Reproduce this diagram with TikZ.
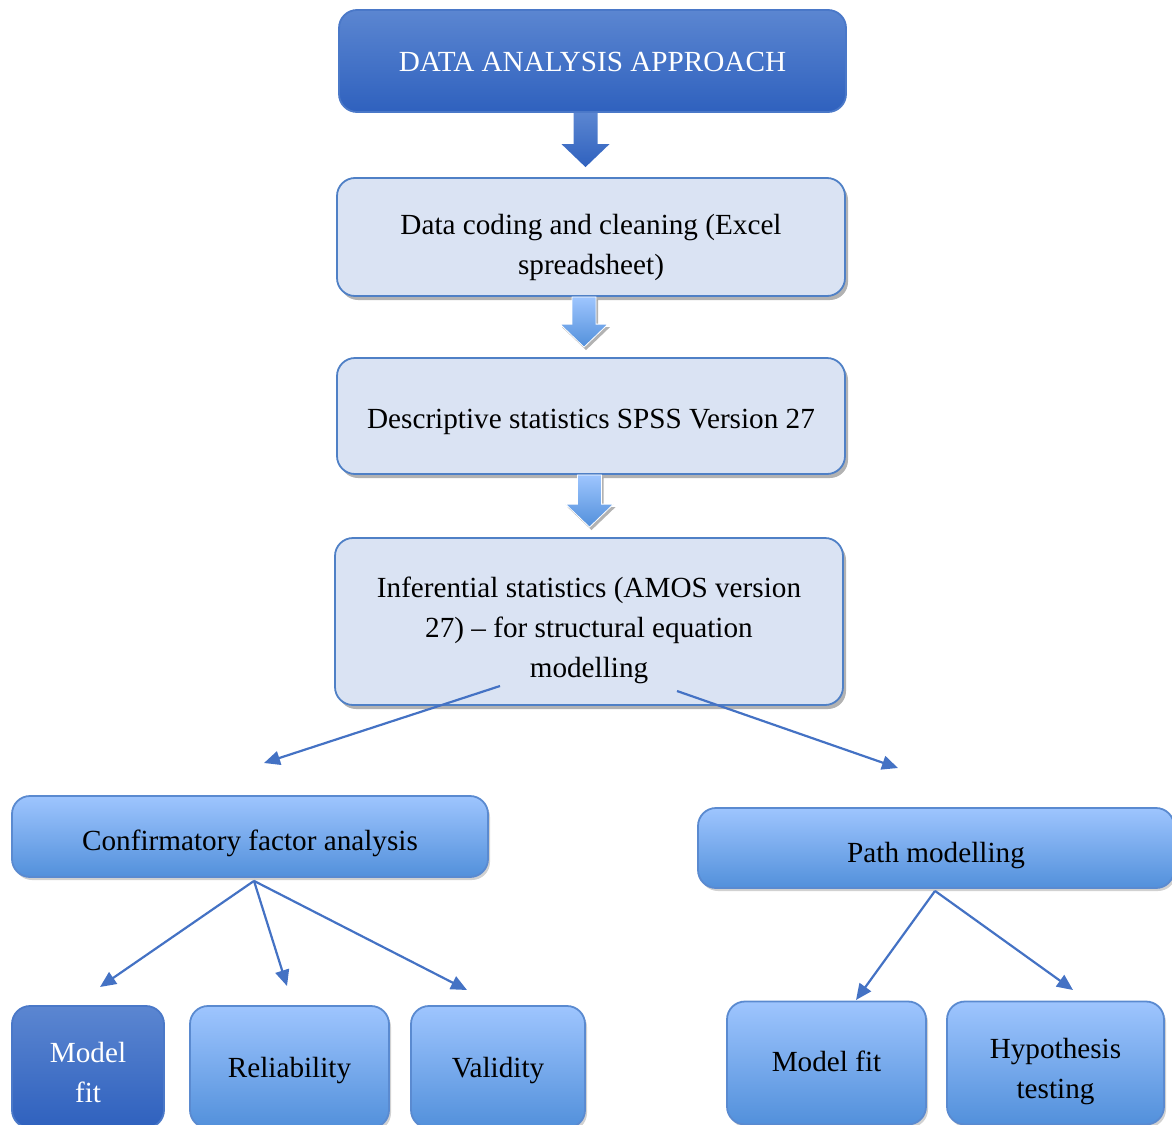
\documentclass[tikz,border=0pt]{standalone}
\usepackage{fontspec}
\setmainfont{Liberation Serif}
\usetikzlibrary{shadows,calc,arrows.meta}

\definecolor{dkTop}{HTML}{5B86D1}
\definecolor{dkBot}{HTML}{2F61BE}
\definecolor{dkEdge}{HTML}{4A78C8}
\definecolor{ltTop}{HTML}{9EC5FE}
\definecolor{ltBot}{HTML}{5290DB}
\definecolor{ltEdge}{HTML}{5A8AD0}
\definecolor{paleFill}{HTML}{DAE3F3}
\definecolor{paleEdge}{HTML}{4F80C6}
\definecolor{linkBlue}{HTML}{4472C4}

% strut that lowers a node's text by about #1 pt
\newcommand\dn[1]{\rule[-4pt]{0pt}{\dimexpr 16pt+#1pt+#1pt\relax}}

% block arrow from the bottom of one box towards the top of the next,
% shifted sideways by #4
\newcommand\blockarrow[4]{%
  \path[#1] let \p1=($(#2.south)+(#4,0)$), \p2=(#3.north) in
    (\x1-6pt,\y1) -- (\x1+6pt,\y1) -- (\x1+6pt,\y2+16.5pt) -- (\x1+12pt,\y2+16.5pt)
    -- (\x1,\y2+5pt) -- (\x1-12pt,\y2+16.5pt) -- (\x1-6pt,\y2+16.5pt) -- cycle;}

\begin{document}
\begin{tikzpicture}[x=0.5pt,y=-0.5pt,
  base/.style={rounded corners=9pt, line width=0.9pt, align=center,
    inner sep=0pt, font=\fontsize{14.6}{20}\selectfont},
  darkbox/.style={base, draw=dkEdge, top color=dkTop, bottom color=dkBot, text=white},
  gradbox/.style={base, draw=ltEdge, top color=ltTop, bottom color=ltBot,
    drop shadow={shadow xshift=1pt, shadow yshift=-1.5pt, opacity=0.18, fill=black}},
  palebox/.style={base, draw=paleEdge, fill=paleFill,
    drop shadow={shadow xshift=1.5pt, shadow yshift=-2pt, opacity=0.3, fill=black}},
  darkarrow/.style={top color=dkTop, bottom color=dkBot, draw=none},
  lightarrow/.style={top color=ltTop, bottom color=ltBot, draw=white, line width=0.4pt,
    drop shadow={shadow xshift=1pt, shadow yshift=-1.5pt, opacity=0.3, fill=black}},
  link/.style={draw=linkBlue, line width=1.1pt, -{Triangle[length=8pt,width=7pt]}}
]
\useasboundingbox (0,0) rectangle (1172,1124);

% main column
\node[darkbox, minimum width=253.5pt, minimum height=51pt] (top) at (592.5,61)
  {\dn{1}DATA ANALYSIS APPROACH};
\node[palebox, minimum width=254pt, minimum height=59pt] (coding) at (591,237)
  {\dn{4.2}Data coding and cleaning (Excel\\spreadsheet)};
\node[palebox, minimum width=254pt, minimum height=58pt] (desc) at (591,416)
  {\dn{2.2}Descriptive statistics SPSS Version 27};
\node[palebox, minimum width=254pt, minimum height=83.5pt] (infer) at (589,621.5)
  {\dn{3.7}Inferential statistics (AMOS version\\27) -- for structural equation\\modelling};

\blockarrow{darkarrow}{top}{coding}{-3.5pt}
\blockarrow{lightarrow}{coding}{desc}{-3.5pt}
\blockarrow{lightarrow}{desc}{infer}{-0.75pt}

% second level
\node[gradbox, minimum width=238pt, minimum height=40.5pt] (cfa) at (250,836.5)
  {\dn{3.2}Confirmatory factor analysis};
\node[gradbox, minimum width=238pt, minimum height=40pt] (pm) at (936,848)
  {\dn{3.2}Path modelling};

% third level
\node[darkbox, minimum width=76pt, minimum height=61pt] (fitA) at (88,1067)
  {\dn{1.7}Model\\fit};
\node[gradbox, minimum width=99.5pt, minimum height=61pt] (rel) at (289.5,1067)
  {\dn{1.3}Reliability};
\node[gradbox, minimum width=87pt, minimum height=61pt] (val) at (498,1067)
  {\dn{1.3}Validity};
\node[gradbox, minimum width=99.5pt, minimum height=61.5pt] (fitB) at (826.5,1063)
  {\dn{0}Model fit};
\node[gradbox, minimum width=108.5pt, minimum height=61.5pt] (hyp) at (1055.5,1063)
  {\dn{3.2}Hypothesis\\testing};

% connector end points
\coordinate (sL) at (500,686);
\coordinate (eL) at (264,763);
\coordinate (sR) at (677,691);
\coordinate (eR) at (898,768);
\coordinate (cfaFit) at (100,987);
\coordinate (cfaRel) at (287,986);
\coordinate (cfaVal) at (467,990);
\coordinate (pmFit) at (856,1000);
\coordinate (pmHyp) at (1073,990);

\draw[link] (sL) -- (eL);
\draw[link] (sR) -- (eR);
\draw[link] ($(cfa.south)+(4,3)$) -- (cfaFit);
\draw[link] ($(cfa.south)+(4,3)$) -- (cfaRel);
\draw[link] ($(cfa.south)+(4,3)$) -- (cfaVal);
\draw[link] ($(pm.south)+(-1,2)$) -- (pmFit);
\draw[link] ($(pm.south)+(-1,2)$) -- (pmHyp);
\end{tikzpicture}
\end{document}
